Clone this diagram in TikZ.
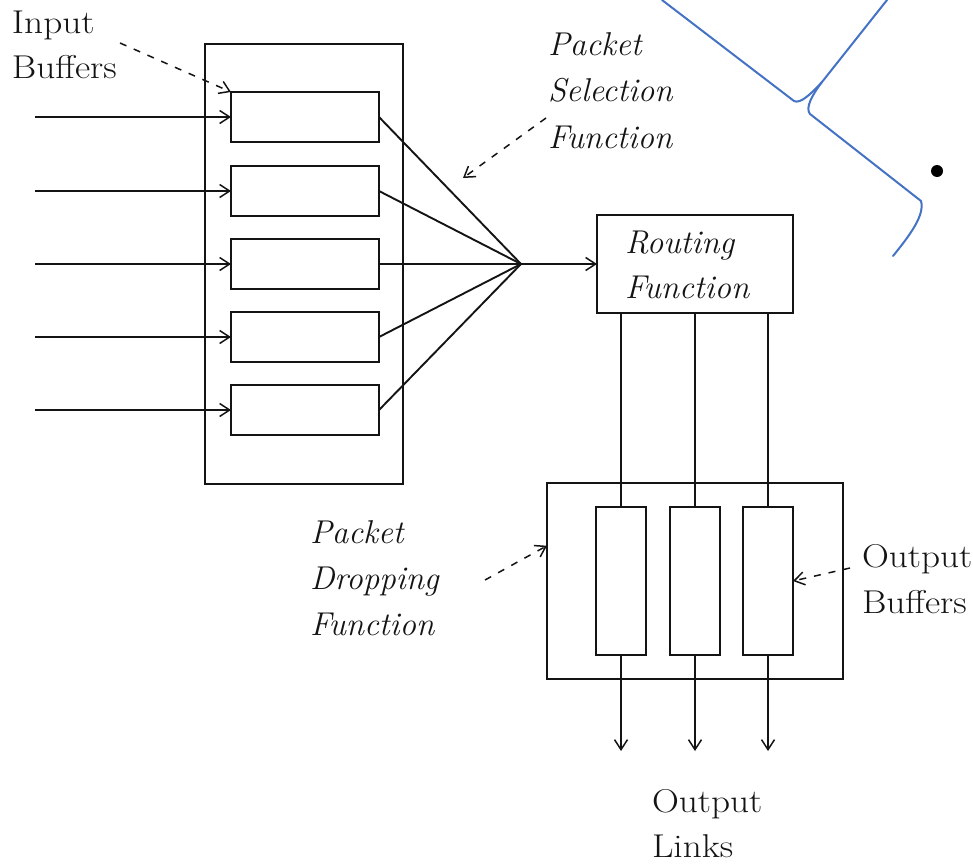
\documentclass[tikz,border=0pt]{standalone}
\usetikzlibrary{arrows.meta,calc}
\definecolor{bracecol}{RGB}{68,114,196}
\definecolor{inkcol}{RGB}{20,20,20}
\begin{document}
\begin{tikzpicture}[x=1pt,y=-1pt,
  every node/.style={inner sep=0pt, outer sep=0pt},
  box/.style={draw=inkcol, line width=2pt, rectangle},
  ln/.style={draw=inkcol, line width=1.9pt},
  arr/.style={ln, -{Straight Barb[length=10pt,width=13pt,line width=1.5pt]}},
  dsh/.style={draw=inkcol, line width=1.5pt, dash pattern=on 7pt off 8pt, -{Straight Barb[length=10pt,width=13pt,line width=1.5pt]}},
  lbl/.style={anchor=base west, text=inkcol, font=\fontsize{33}{45}\selectfont},
  ilbl/.style={anchor=base west, text=inkcol, font=\fontsize{33}{46}\selectfont\itshape},
  brace/.style={draw=bracecol, line width=2pt, line join=round, line cap=round}]
\useasboundingbox (0,0) rectangle (973,865);

% input side
\node[box, minimum width=198pt, minimum height=440pt] (inbox) at (304,264) {};
\coordinate (conv) at (521,264);
\foreach \i/\y in {1/117,2/191,3/264,4/337,5/410}{
  \node[box, minimum width=148pt, minimum height=50pt] (ib\i) at (305,\y) {};
  \coordinate (in\i) at (35,\y);
  \draw[arr] (in\i) -- (ib\i.west);
  \draw[ln] (ib\i.east) -- (conv);
}

% routing
\node[box, minimum width=196pt, minimum height=98pt] (rout) at (695,264) {};
\node[ilbl, font=\fontsize{33}{45}\selectfont\itshape] (rtxt) at (625,253) {\vtop{\hbox{Routing}\hbox{Function}}};
\draw[arr] (conv) -- (rout.west);

% output side
\node[box, minimum width=296pt, minimum height=196pt] (outbox) at (695,581) {};
\foreach \i/\x in {1/621,2/695,3/768}{
  \node[box, minimum width=50pt, minimum height=148pt] (ob\i) at (\x,581) {};
  \draw[ln] (rout.south -| ob\i.north) -- (ob\i.north);
  \coordinate (ol\i) at (\x,751);
  \draw[arr] (ob\i.south) -- (ol\i);
}

% labels
\node[lbl] (tin) at (12,33) {\scalebox{1.13}[1]{\vtop{\hbox{Input}\hbox{Buffers}}}};
\coordinate (din) at (120,43);
\draw[dsh] (din) -- (ib1.north west);

\node[ilbl, font=\fontsize{33}{46.5}\selectfont\itshape] (tsel) at (548,55) {\vtop{\hbox{Packet}\hbox{Selection}\hbox{Function}}};
\coordinate (dsel) at (546,118);
\coordinate (dselt) at (463,178);
\draw[dsh] (dsel) -- (dselt);

\node[ilbl] (tdrop) at (310,543) {\vtop{\hbox{Packet}\hbox{Dropping}\hbox{Function}}};
\coordinate (ddrop) at (485,580);
\draw[dsh] (ddrop) -- ($(outbox.north west)!0.32!(outbox.south west)$);

\node[lbl, font=\fontsize{33}{46}\selectfont] (tob) at (862,567) {\scalebox{1.13}[1]{\vtop{\hbox{Output}\hbox{Buffers}}}};
\coordinate (dob) at (850,568);
\draw[dsh] (dob) -- (ob3.east);

\node[lbl, font=\fontsize{33}{45}\selectfont] (tol) at (652,812) {\scalebox{1.13}[1]{\vtop{\hbox{Output}\hbox{Links}}}};

% blue callout brace and bullet
\draw[brace] (662,0) -- (794,101) .. controls (800,104) and (810,95) .. (822,82);
\draw[brace] (887,0) -- (822,82) .. controls (812,95) and (805,108) .. (810,114) -- (921,201) .. controls (925,215) and (910,235) .. (893,256);
\fill[black] (937,171) circle (6pt);
\end{tikzpicture}
\end{document}
